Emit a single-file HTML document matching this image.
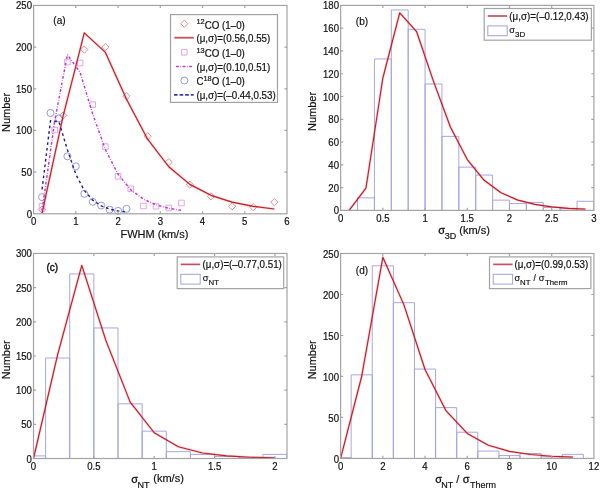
<!DOCTYPE html>
<html><head><meta charset="utf-8"><title>figure</title><style>html,body{margin:0;padding:0;background:#fff;overflow:hidden}svg{display:block;will-change:transform;filter:blur(0.35px)}</style></head><body>
<svg width="600" height="490" viewBox="0 0 600 490">
<style>text{font-family:"Liberation Sans",sans-serif;fill:#111;stroke:#111;stroke-width:0.18px}.t{font-size:9.6px}.l{font-size:11px}.g{font-size:9.8px}.p{font-size:10px}.pb{font-size:10px;stroke-width:0.4px}.sg{stroke-width:0.3px}.sgl{stroke-width:0.15px}</style>
<defs>
<clipPath id="ca"><rect x="33.6" y="5.45" width="253.40" height="208.35"/></clipPath>
<clipPath id="cb"><rect x="340.65" y="5.4" width="253.25" height="205.00"/></clipPath>
<clipPath id="cc"><rect x="33.5" y="253.45" width="253.50" height="205.05"/></clipPath>
<clipPath id="cd"><rect x="340.6" y="253.5" width="253.30" height="204.95"/></clipPath>
</defs>
<rect width="600" height="490" fill="#fff"/>
<polyline points="42.05,209.63 63.16,115.46 84.28,49.62 105.40,47.12 126.51,96.29 147.63,136.29 168.75,162.13 189.86,184.63 210.98,196.30 232.10,206.30 253.21,207.13 274.33,202.13" fill="none" stroke="#f6d2d2" stroke-width="0.6" stroke-linejoin="round" stroke-dasharray="0.8 2.4"/>
<polyline points="42.05,206.30 54.72,130.04 67.39,62.12 80.06,62.95 92.73,104.62 105.40,146.63 118.07,176.30 130.74,188.80 143.41,205.97 156.08,206.22 168.75,207.97 181.42,202.97" fill="none" stroke="#f4d4f4" stroke-width="0.6" stroke-linejoin="round" stroke-dasharray="0.8 2.4"/>
<polyline points="42.05,197.13 50.49,112.96 58.94,118.38 67.39,156.30 75.83,166.30 84.28,193.80 92.73,201.80 101.17,205.47 109.62,209.63 118.07,210.88 126.51,208.80" fill="none" stroke="#dcdcf6" stroke-width="0.6" stroke-linejoin="round" stroke-dasharray="0.8 2.4"/>
<path d="M42.05 206.03L45.65 209.63L42.05 213.23L38.45 209.63ZM63.16 111.86L66.76 115.46L63.16 119.06L59.56 115.46ZM84.28 46.02L87.88 49.62L84.28 53.22L80.68 49.62ZM105.40 43.52L109.00 47.12L105.40 50.72L101.80 47.12ZM126.51 92.69L130.11 96.29L126.51 99.89L122.91 96.29ZM147.63 132.69L151.23 136.29L147.63 139.89L144.03 136.29ZM168.75 158.53L172.35 162.13L168.75 165.73L165.15 162.13ZM189.86 181.03L193.46 184.63L189.86 188.23L186.26 184.63ZM210.98 192.70L214.58 196.30L210.98 199.90L207.38 196.30ZM232.10 202.70L235.70 206.30L232.10 209.90L228.50 206.30ZM253.21 203.53L256.81 207.13L253.21 210.73L249.61 207.13ZM274.33 198.53L277.93 202.13L274.33 205.73L270.73 202.13Z" fill="none" stroke="#e0808c" stroke-width="0.9"/>
<path d="M39.25 203.50h5.6v5.6h-5.6ZM51.92 127.24h5.6v5.6h-5.6ZM64.59 59.32h5.6v5.6h-5.6ZM77.26 60.15h5.6v5.6h-5.6ZM89.93 101.82h5.6v5.6h-5.6ZM102.60 143.83h5.6v5.6h-5.6ZM115.27 173.50h5.6v5.6h-5.6ZM127.94 186.00h5.6v5.6h-5.6ZM140.61 203.17h5.6v5.6h-5.6ZM153.28 203.42h5.6v5.6h-5.6ZM165.95 205.17h5.6v5.6h-5.6ZM178.62 200.17h5.6v5.6h-5.6Z" fill="none" stroke="#e09ce8" stroke-width="0.9"/>
<circle cx="42.05" cy="197.13" r="3.5" fill="none" stroke="#8c8ce0" stroke-width="0.9"/>
<circle cx="50.49" cy="112.96" r="3.5" fill="none" stroke="#8c8ce0" stroke-width="0.9"/>
<circle cx="58.94" cy="118.38" r="3.5" fill="none" stroke="#8c8ce0" stroke-width="0.9"/>
<circle cx="67.39" cy="156.30" r="3.5" fill="none" stroke="#8c8ce0" stroke-width="0.9"/>
<circle cx="75.83" cy="166.30" r="3.5" fill="none" stroke="#8c8ce0" stroke-width="0.9"/>
<circle cx="84.28" cy="193.80" r="3.5" fill="none" stroke="#8c8ce0" stroke-width="0.9"/>
<circle cx="92.73" cy="201.80" r="3.5" fill="none" stroke="#8c8ce0" stroke-width="0.9"/>
<circle cx="101.17" cy="205.47" r="3.5" fill="none" stroke="#8c8ce0" stroke-width="0.9"/>
<circle cx="109.62" cy="209.63" r="3.5" fill="none" stroke="#8c8ce0" stroke-width="0.9"/>
<circle cx="118.07" cy="210.88" r="3.5" fill="none" stroke="#8c8ce0" stroke-width="0.9"/>
<circle cx="126.51" cy="208.80" r="3.5" fill="none" stroke="#8c8ce0" stroke-width="0.9"/>
<polyline points="42.05,213.23 63.16,115.93 84.28,32.93 105.40,52.41 126.51,99.24 147.63,139.18 168.75,166.74 189.86,184.37 210.98,195.35 232.10,202.14 253.21,206.35 274.33,208.98" fill="none" stroke="#f04a50" stroke-width="2.45" stroke-linejoin="round" stroke-opacity="0.25"/>
<polyline points="42.05,213.23 63.16,115.93 84.28,32.93 105.40,52.41 126.51,99.24 147.63,139.18 168.75,166.74 189.86,184.37 210.98,195.35 232.10,202.14 253.21,206.35 274.33,208.98" fill="none" stroke="#c21c26" stroke-width="1.15" stroke-linejoin="round"/>
<polyline points="42.05,210.97 54.72,120.93 67.39,54.66 80.06,72.34 92.73,113.98 105.40,149.71 118.07,174.24 130.74,189.71 143.41,199.14 156.08,204.83 168.75,208.26 181.42,210.34" fill="none" stroke="#c22ed8" stroke-width="1.4" stroke-linejoin="round" stroke-dasharray="2.6 1.7 0.7 1.7"/>
<polyline points="42.05,189.38 50.49,120.80 58.94,121.78 67.39,149.76 75.83,174.33 84.28,190.50 92.73,200.19 101.17,205.83 109.62,209.08 118.07,210.97 126.51,212.07" fill="none" stroke="#1c1ca0" stroke-width="1.4" stroke-linejoin="round" stroke-dasharray="2.7 2.9"/>
<rect x="33.6" y="5.45" width="253.40" height="208.35" fill="none" stroke="#a3a3a3" stroke-width="1.2"/>
<path d="M75.83 213.8v-2.6M75.83 5.45v2.6M118.07 213.8v-2.6M118.07 5.45v2.6M160.30 213.8v-2.6M160.30 5.45v2.6M202.53 213.8v-2.6M202.53 5.45v2.6M244.77 213.8v-2.6M244.77 5.45v2.6M33.6 172.13h2.6M287.0 172.13h-2.6M33.6 130.46h2.6M287.0 130.46h-2.6M33.6 88.79h2.6M287.0 88.79h-2.6M33.6 47.12h2.6M287.0 47.12h-2.6" stroke="#a3a3a3" stroke-width="1.2" fill="none"/>
<text transform="translate(33.60,225.00) scale(1,1.2)" class="t" text-anchor="middle">0</text>
<text transform="translate(75.83,225.00) scale(1,1.2)" class="t" text-anchor="middle">1</text>
<text transform="translate(118.07,225.00) scale(1,1.2)" class="t" text-anchor="middle">2</text>
<text transform="translate(160.30,225.00) scale(1,1.2)" class="t" text-anchor="middle">3</text>
<text transform="translate(202.53,225.00) scale(1,1.2)" class="t" text-anchor="middle">4</text>
<text transform="translate(244.77,225.00) scale(1,1.2)" class="t" text-anchor="middle">5</text>
<text transform="translate(287.00,225.00) scale(1,1.2)" class="t" text-anchor="middle">6</text>
<text transform="translate(32.00,217.80) scale(1,1.2)" class="t" text-anchor="end">0</text>
<text transform="translate(32.00,176.13) scale(1,1.2)" class="t" text-anchor="end">50</text>
<text transform="translate(32.00,134.46) scale(1,1.2)" class="t" text-anchor="end">100</text>
<text transform="translate(32.00,92.79) scale(1,1.2)" class="t" text-anchor="end">150</text>
<text transform="translate(32.00,51.12) scale(1,1.2)" class="t" text-anchor="end">200</text>
<text transform="translate(32.00,9.45) scale(1,1.2)" class="t" text-anchor="end">250</text>
<text transform="translate(53.30,23.80) scale(1,1.0)" class="p">(a)</text>
<rect x="170.5" y="14.6" width="107.00" height="87.80" fill="#fff" stroke="#a3a3a3" stroke-width="1.2"/>
<path d="M174.4 23.7H193.7" stroke="#f6d2d2" stroke-width="0.6" stroke-dasharray="0.8 2.4"/>
<path d="M184.30 20.10L187.90 23.70L184.30 27.30L180.70 23.70Z" fill="none" stroke="#e0808c" stroke-width="0.9"/>
<text transform="translate(196.40,28.50) scale(1,1.07)" class="g"><tspan font-size="7.4px" dy="-3.8">12</tspan><tspan dy="3.8">CO (1–0)</tspan></text>
<path d="M174.4 37.7H193.7" stroke="#c8505e" stroke-width="1.8"/>
<text transform="translate(196.40,41.70) scale(1,1.07)" class="g">(μ,σ)=(0.56,0.55)</text>
<path d="M174.4 52.3H193.7" stroke="#f4d4f4" stroke-width="0.6" stroke-dasharray="0.8 2.4"/>
<path d="M181.50 49.50h5.6v5.6h-5.6Z" fill="none" stroke="#e09ce8" stroke-width="0.9"/>
<text transform="translate(196.40,57.10) scale(1,1.07)" class="g"><tspan font-size="7.4px" dy="-3.8">13</tspan><tspan dy="3.8">CO (1–0)</tspan></text>
<path d="M175.9 66.5H193.7" stroke="#d040dc" stroke-width="1.5" stroke-dasharray="3 1.5 0.6 1.5"/>
<text transform="translate(196.40,70.50) scale(1,1.07)" class="g">(μ,σ)=(0.10,0.51)</text>
<path d="M174.4 80.5H193.7" stroke="#dcdcf6" stroke-width="0.6" stroke-dasharray="0.8 2.4"/>
<circle cx="184.3" cy="80.5" r="3.5" fill="none" stroke="#8c8ce0" stroke-width="0.9"/>
<text transform="translate(196.40,85.30) scale(1,1.07)" class="g">C<tspan font-size="7.4px" dy="-3.8">18</tspan><tspan dy="3.8">O (1–0)</tspan></text>
<path d="M174.0 94.9H193.7" stroke="#3838c0" stroke-width="1.6" stroke-dasharray="3.6 2"/>
<text transform="translate(196.40,98.90) scale(1,1.07)" class="g">(μ,σ)=(–0.44,0.53)</text>
<text transform="translate(154.40,237.50) scale(1,1.0)" class="l" text-anchor="middle">FWHM (km/s)</text>
<text transform="translate(9.90,112.50) rotate(-90) scale(1,1.04)" class="l" text-anchor="middle">Number</text>
<path d="M340.65 210.40V210.40H357.53V210.40M357.53 210.40V197.87H374.42V210.40M374.42 210.40V58.93H391.30V210.40M391.30 210.40V9.96H408.18V210.40M408.18 210.40V29.32H425.07V210.40M425.07 210.40V83.98H441.95V210.40M441.95 210.40V136.37H458.83V210.40M458.83 210.40V167.12H475.72V210.40M475.72 210.40V175.09H492.60V210.40M492.60 210.40V200.15H509.48V210.40M509.48 210.40V203.57H526.37V210.40M526.37 210.40V202.43H543.25V210.40M543.25 210.40V207.55H560.13V210.40M560.13 210.40V208.69H577.02V210.40M577.02 210.40V201.29H593.90V210.40" fill="none" stroke="#a2a2e2" stroke-width="0.95" clip-path="url(#cb)"/>
<polyline points="349.09,210.40 365.97,188.03 382.86,78.01 399.74,12.82 416.62,31.70 433.51,81.34 450.39,127.04 467.27,159.55 484.16,180.27 501.04,192.77 517.92,200.12 534.81,204.40 551.69,206.87 568.58,208.31 585.46,209.15" fill="none" stroke="#f04a50" stroke-width="2.45" stroke-linejoin="round" stroke-opacity="0.25"/>
<polyline points="349.09,210.40 365.97,188.03 382.86,78.01 399.74,12.82 416.62,31.70 433.51,81.34 450.39,127.04 467.27,159.55 484.16,180.27 501.04,192.77 517.92,200.12 534.81,204.40 551.69,206.87 568.58,208.31 585.46,209.15" fill="none" stroke="#c21c26" stroke-width="1.15" stroke-linejoin="round"/>
<rect x="340.65" y="5.4" width="253.25" height="205.00" fill="none" stroke="#a3a3a3" stroke-width="1.2"/>
<path d="M382.86 210.4v-2.6M382.86 5.4v2.6M425.07 210.4v-2.6M425.07 5.4v2.6M467.27 210.4v-2.6M467.27 5.4v2.6M509.48 210.4v-2.6M509.48 5.4v2.6M551.69 210.4v-2.6M551.69 5.4v2.6M340.65 187.62h2.6M593.9 187.62h-2.6M340.65 164.84h2.6M593.9 164.84h-2.6M340.65 142.07h2.6M593.9 142.07h-2.6M340.65 119.29h2.6M593.9 119.29h-2.6M340.65 96.51h2.6M593.9 96.51h-2.6M340.65 73.73h2.6M593.9 73.73h-2.6M340.65 50.96h2.6M593.9 50.96h-2.6M340.65 28.18h2.6M593.9 28.18h-2.6" stroke="#a3a3a3" stroke-width="1.2" fill="none"/>
<text transform="translate(340.65,221.60) scale(1,1.2)" class="t" text-anchor="middle">0</text>
<text transform="translate(382.86,221.60) scale(1,1.2)" class="t" text-anchor="middle">0.5</text>
<text transform="translate(425.07,221.60) scale(1,1.2)" class="t" text-anchor="middle">1</text>
<text transform="translate(467.27,221.60) scale(1,1.2)" class="t" text-anchor="middle">1.5</text>
<text transform="translate(509.48,221.60) scale(1,1.2)" class="t" text-anchor="middle">2</text>
<text transform="translate(551.69,221.60) scale(1,1.2)" class="t" text-anchor="middle">2.5</text>
<text transform="translate(593.90,221.60) scale(1,1.2)" class="t" text-anchor="middle">3</text>
<text transform="translate(339.05,214.40) scale(1,1.2)" class="t" text-anchor="end">0</text>
<text transform="translate(339.05,191.62) scale(1,1.2)" class="t" text-anchor="end">20</text>
<text transform="translate(339.05,168.84) scale(1,1.2)" class="t" text-anchor="end">40</text>
<text transform="translate(339.05,146.07) scale(1,1.2)" class="t" text-anchor="end">60</text>
<text transform="translate(339.05,123.29) scale(1,1.2)" class="t" text-anchor="end">80</text>
<text transform="translate(339.05,100.51) scale(1,1.2)" class="t" text-anchor="end">100</text>
<text transform="translate(339.05,77.73) scale(1,1.2)" class="t" text-anchor="end">120</text>
<text transform="translate(339.05,54.96) scale(1,1.2)" class="t" text-anchor="end">140</text>
<text transform="translate(339.05,32.18) scale(1,1.2)" class="t" text-anchor="end">160</text>
<text transform="translate(339.05,9.40) scale(1,1.2)" class="t" text-anchor="end">180</text>
<text transform="translate(355.80,25.30) scale(1,1.0)" class="p">(b)</text>
<rect x="484.2" y="8.5" width="107.20" height="31.70" fill="#fff" stroke="#a3a3a3" stroke-width="1.2"/>
<path d="M487.8 16.00H507.2" stroke="#c8505e" stroke-width="1.7"/>
<text transform="translate(509.30,19.70) scale(1,1.07)" class="g">(μ,σ)=(–0.12,0.43)</text>
<rect x="487.8" y="25.90" width="19.40" height="9.8" fill="none" stroke="#a2a2e2" stroke-width="1"/>
<text x="509.30" y="32.60" class="sgl" style="font-size:9.2px">σ</text>
<text x="515.00" y="36.80" class="g" style="font-size:8px">3D</text>
<text x="438.14" y="234.00" class="sg" style="font-size:11px">σ</text>
<text x="444.66" y="239.40" class="l" style="font-size:9px">3D</text>
<text x="459.30" y="233.90" class="l" style="font-size:11px">(km/s)</text>
<text transform="translate(316.40,111.50) rotate(-90) scale(1,1.04)" class="l" text-anchor="middle">Number</text>
<path d="M21.43 458.50V455.90H45.57V458.50M45.57 458.50V358.03H69.71V458.50M69.71 458.50V273.95H93.86V458.50M93.86 458.50V327.95H118.00V458.50M118.00 458.50V403.82H142.14V458.50M142.14 458.50V431.16H166.29V458.50M166.29 458.50V451.67H190.43V458.50M190.43 458.50V454.40H214.57V458.50M214.57 458.50V456.45H238.71V458.50M238.71 458.50V457.82H262.86V458.50M262.86 458.50V454.40H287.00V458.50" fill="none" stroke="#a2a2e2" stroke-width="0.95" clip-path="url(#cc)"/>
<polyline points="33.50,458.50 57.64,354.68 81.79,265.44 105.93,340.63 130.07,401.89 154.21,432.76 178.36,446.77 202.50,453.04 226.64,455.88 250.79,457.21 274.93,457.84" fill="none" stroke="#f04a50" stroke-width="2.45" stroke-linejoin="round" stroke-opacity="0.25"/>
<polyline points="33.50,458.50 57.64,354.68 81.79,265.44 105.93,340.63 130.07,401.89 154.21,432.76 178.36,446.77 202.50,453.04 226.64,455.88 250.79,457.21 274.93,457.84" fill="none" stroke="#c21c26" stroke-width="1.15" stroke-linejoin="round"/>
<rect x="33.5" y="253.45" width="253.50" height="205.05" fill="none" stroke="#a3a3a3" stroke-width="1.2"/>
<path d="M93.86 458.5v-2.6M93.86 253.45v2.6M154.21 458.5v-2.6M154.21 253.45v2.6M214.57 458.5v-2.6M214.57 253.45v2.6M274.93 458.5v-2.6M274.93 253.45v2.6M33.5 424.32h2.6M287.0 424.32h-2.6M33.5 390.15h2.6M287.0 390.15h-2.6M33.5 355.98h2.6M287.0 355.98h-2.6M33.5 321.80h2.6M287.0 321.80h-2.6M33.5 287.62h2.6M287.0 287.62h-2.6" stroke="#a3a3a3" stroke-width="1.2" fill="none"/>
<text transform="translate(33.50,469.70) scale(1,1.2)" class="t" text-anchor="middle">0</text>
<text transform="translate(93.86,469.70) scale(1,1.2)" class="t" text-anchor="middle">0.5</text>
<text transform="translate(154.21,469.70) scale(1,1.2)" class="t" text-anchor="middle">1</text>
<text transform="translate(214.57,469.70) scale(1,1.2)" class="t" text-anchor="middle">1.5</text>
<text transform="translate(274.93,469.70) scale(1,1.2)" class="t" text-anchor="middle">2</text>
<text transform="translate(31.90,462.50) scale(1,1.2)" class="t" text-anchor="end">0</text>
<text transform="translate(31.90,428.32) scale(1,1.2)" class="t" text-anchor="end">50</text>
<text transform="translate(31.90,394.15) scale(1,1.2)" class="t" text-anchor="end">100</text>
<text transform="translate(31.90,359.98) scale(1,1.2)" class="t" text-anchor="end">150</text>
<text transform="translate(31.90,325.80) scale(1,1.2)" class="t" text-anchor="end">200</text>
<text transform="translate(31.90,291.62) scale(1,1.2)" class="t" text-anchor="end">250</text>
<text transform="translate(31.90,257.45) scale(1,1.2)" class="t" text-anchor="end">300</text>
<text transform="translate(46.50,271.40) scale(1,1.0)" class="pb">(c)</text>
<rect x="177.2" y="256.9" width="106.50" height="31.70" fill="#fff" stroke="#a3a3a3" stroke-width="1.2"/>
<path d="M180.8 264.40H200.2" stroke="#c8505e" stroke-width="1.7"/>
<text transform="translate(202.50,268.10) scale(1,1.07)" class="g">(μ,σ)=(–0.77,0.51)</text>
<rect x="180.8" y="274.30" width="19.40" height="9.8" fill="none" stroke="#a2a2e2" stroke-width="1"/>
<text x="202.70" y="280.80" class="sgl" style="font-size:9.2px">σ</text>
<text x="208.60" y="285.20" class="g" style="font-size:7.8px">NT</text>
<text x="131.30" y="482.50" class="sg" style="font-size:11px">σ</text>
<text x="137.50" y="487.50" class="l" style="font-size:9px">NT</text>
<text x="153.30" y="482.40" class="l" style="font-size:11px">(km/s)</text>
<text transform="translate(9.90,359.80) rotate(-90) scale(1,1.04)" class="l" text-anchor="middle">Number</text>
<path d="M330.05 458.45V457.63H351.15V458.45M351.15 458.45V374.83H372.26V458.45M372.26 458.45V265.80H393.37V458.45M393.37 458.45V302.69H414.48V458.45M414.48 458.45V369.09H435.59V458.45M435.59 458.45V407.62H456.70V458.45M456.70 458.45V432.22H477.80V458.45M477.80 458.45V451.07H498.91V458.45M498.91 458.45V455.58H520.02V458.45M520.02 458.45V453.53H541.13V458.45M541.13 458.45V456.81H562.24V458.45M562.24 458.45V454.35H583.35V458.45" fill="none" stroke="#a2a2e2" stroke-width="0.95" clip-path="url(#cd)"/>
<polyline points="340.60,458.45 361.71,376.24 382.82,257.34 403.93,304.87 425.03,369.51 446.14,410.92 467.25,433.47 488.36,445.23 509.47,451.34 530.58,454.54 551.68,456.26 572.79,457.19" fill="none" stroke="#f04a50" stroke-width="2.45" stroke-linejoin="round" stroke-opacity="0.25"/>
<polyline points="340.60,458.45 361.71,376.24 382.82,257.34 403.93,304.87 425.03,369.51 446.14,410.92 467.25,433.47 488.36,445.23 509.47,451.34 530.58,454.54 551.68,456.26 572.79,457.19" fill="none" stroke="#c21c26" stroke-width="1.15" stroke-linejoin="round"/>
<rect x="340.6" y="253.5" width="253.30" height="204.95" fill="none" stroke="#a3a3a3" stroke-width="1.2"/>
<path d="M382.82 458.45v-2.6M382.82 253.5v2.6M425.03 458.45v-2.6M425.03 253.5v2.6M467.25 458.45v-2.6M467.25 253.5v2.6M509.47 458.45v-2.6M509.47 253.5v2.6M551.68 458.45v-2.6M551.68 253.5v2.6M340.6 417.46h2.6M593.9 417.46h-2.6M340.6 376.47h2.6M593.9 376.47h-2.6M340.6 335.48h2.6M593.9 335.48h-2.6M340.6 294.49h2.6M593.9 294.49h-2.6" stroke="#a3a3a3" stroke-width="1.2" fill="none"/>
<text transform="translate(340.60,469.65) scale(1,1.2)" class="t" text-anchor="middle">0</text>
<text transform="translate(382.82,469.65) scale(1,1.2)" class="t" text-anchor="middle">2</text>
<text transform="translate(425.03,469.65) scale(1,1.2)" class="t" text-anchor="middle">4</text>
<text transform="translate(467.25,469.65) scale(1,1.2)" class="t" text-anchor="middle">6</text>
<text transform="translate(509.47,469.65) scale(1,1.2)" class="t" text-anchor="middle">8</text>
<text transform="translate(551.68,469.65) scale(1,1.2)" class="t" text-anchor="middle">10</text>
<text transform="translate(593.90,469.65) scale(1,1.2)" class="t" text-anchor="middle">12</text>
<text transform="translate(339.00,463.25) scale(1,1.2)" class="t" text-anchor="end">0</text>
<text transform="translate(339.00,422.26) scale(1,1.2)" class="t" text-anchor="end">50</text>
<text transform="translate(339.00,381.27) scale(1,1.2)" class="t" text-anchor="end">100</text>
<text transform="translate(339.00,340.28) scale(1,1.2)" class="t" text-anchor="end">150</text>
<text transform="translate(339.00,299.29) scale(1,1.2)" class="t" text-anchor="end">200</text>
<text transform="translate(339.00,258.30) scale(1,1.2)" class="t" text-anchor="end">250</text>
<text transform="translate(355.80,273.50) scale(1,1.0)" class="p">(d)</text>
<rect x="489.5" y="256.9" width="101.40" height="31.70" fill="#fff" stroke="#a3a3a3" stroke-width="1.2"/>
<path d="M493.2 264.40H512.6" stroke="#c8505e" stroke-width="1.7"/>
<text transform="translate(514.40,268.10) scale(1,1.07)" class="g">(μ,σ)=(0.99,0.53)</text>
<rect x="493.2" y="274.30" width="19.40" height="9.8" fill="none" stroke="#a2a2e2" stroke-width="1"/>
<text x="514.60" y="280.70" class="sgl" style="font-size:9.2px">σ</text>
<text x="520.00" y="285.20" class="g" style="font-size:7.8px">NT</text>
<text x="533.40" y="280.50" class="g" style="font-size:8.6px">/</text>
<text x="538.80" y="280.70" class="sgl" style="font-size:9.2px">σ</text>
<text x="545.00" y="285.20" class="g" style="font-size:7.8px">Therm</text>
<text x="435.25" y="482.70" class="sg" style="font-size:11px">σ</text>
<text x="441.30" y="487.70" class="l" style="font-size:9px">NT</text>
<text x="456.30" y="482.70" class="l" style="font-size:11px">/</text>
<text x="462.85" y="482.60" class="sg" style="font-size:11px">σ</text>
<text x="470.10" y="487.70" class="l" style="font-size:9px">Therm</text>
<text transform="translate(316.40,359.80) rotate(-90) scale(1,1.04)" class="l" text-anchor="middle">Number</text>
</svg>
</body></html>
